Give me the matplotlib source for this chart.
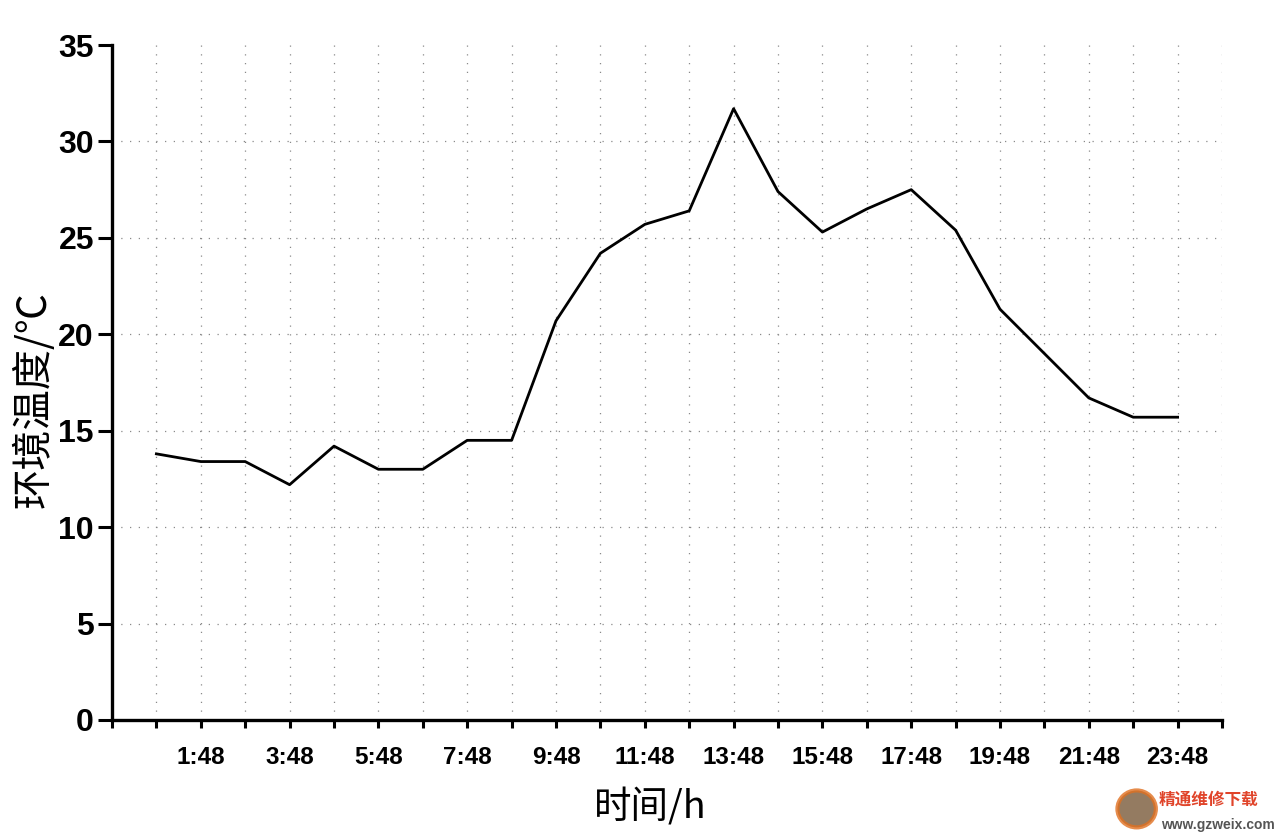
"""Ambient temperature over one day (hourly readings at :48)."""
import matplotlib
matplotlib.use("Agg")
import matplotlib.pyplot as plt
from matplotlib.patches import Ellipse

# readings at 0:48, 1:48, ... 23:48
hours = list(range(24))
temps = [13.8, 13.4, 13.4, 12.2, 14.2, 13.0, 13.0, 14.5, 14.5, 20.7, 24.2, 25.7,
         26.4, 31.7, 27.4, 25.3, 26.5, 27.5, 25.4, 21.3, 19.0, 16.7, 15.7, 15.7]
tick_pos = list(range(-1, 25))
tick_labels = [f"{h}:48" if h > 0 and h % 2 == 1 else "" for h in tick_pos]
y_ticks = [0, 5, 10, 15, 20, 25, 30, 35]

NARROW = ["Liberation Sans", "DejaVu Sans"]
CJK = ["Noto Sans CJK SC", "DejaVu Sans"]
GRID = dict(color="#8a8a8a", linestyle=(0, (1, 6)), linewidth=0.9)


def main():
    fig = plt.figure(figsize=(12.8, 8.4), dpi=100)
    ax = fig.add_axes([0.0875, 0.1429, 0.8672, 0.8035])

    ax.plot(hours, temps, color="black", linewidth=2.0, zorder=3)

    ax.set_xlim(-1, 24)
    ax.set_ylim(0, 35)

    # dotted grid, skipping the top edge
    for y in y_ticks[1:-1]:
        ax.axhline(y, zorder=1, **GRID)
    for x in tick_pos[1:]:
        ax.axvline(x, zorder=1, **GRID)

    ax.set_xticks(tick_pos)
    ax.set_xticklabels(tick_labels)
    ax.set_yticks(y_ticks)
    ax.set_yticklabels([str(v) for v in y_ticks])

    for sp in ("top", "right"):
        ax.spines[sp].set_visible(False)
    for sp in ("left", "bottom"):
        ax.spines[sp].set_linewidth(2.4)

    ax.tick_params(axis="y", direction="out", length=10, width=2.2, pad=3)
    ax.tick_params(axis="x", direction="out", length=6, width=2.2, pad=13)
    for lbl in ax.get_yticklabels():
        lbl.set_family(NARROW)
        lbl.set_fontweight("bold")
        lbl.set_fontsize(23)
    for lbl in ax.get_xticklabels():
        lbl.set_family(NARROW)
        lbl.set_fontweight("bold")
        lbl.set_fontsize(17.5)

    fig.text(0.026, 0.524, "环境温度/℃", rotation=90, ha="center", va="center",
             fontsize=29, family=CJK)
    fig.text(0.508, 0.038, "时间/h", ha="center", va="center",
             fontsize=27, family=CJK)

    # watermark, bottom right
    fig.patches.append(Ellipse((0.888, 0.037), 0.03, 0.044, transform=fig.transFigure,
                               facecolor="#7a5a3a", edgecolor="#e07020",
                               linewidth=3, alpha=0.8))
    fig.text(0.905, 0.048, "精通维修下载", ha="left", va="center", fontsize=12,
             fontweight="bold", color="#e0442a", family=CJK)
    fig.text(0.907, 0.018, "www.gzweix.com", ha="left", va="center", fontsize=10,
             fontweight="bold", color="#555555", family=NARROW)

    fig.savefig("out.png", dpi=100)
    plt.close(fig)


if __name__ == "__main__":
    main()
